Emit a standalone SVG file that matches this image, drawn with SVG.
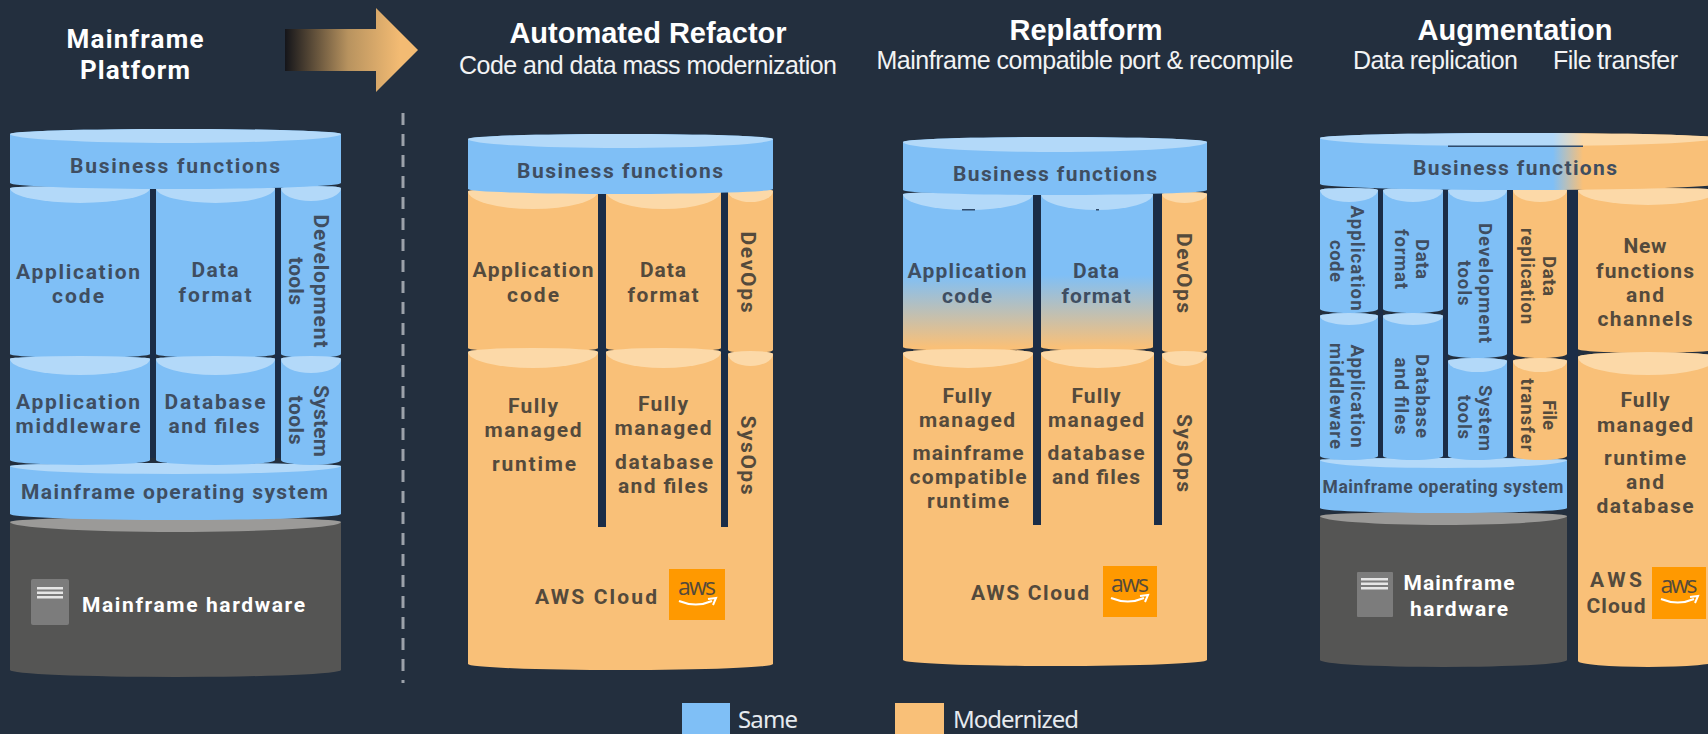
<svg xmlns="http://www.w3.org/2000/svg" width="1708" height="734" viewBox="0 0 1708 734">
<style>
text{font-family:Roboto,"Noto Sans",sans-serif;font-weight:700;font-size:21px;text-anchor:middle;fill:#3f4e61}
.on text,text.on{fill:#544a3c}
.w{fill:#fff}
.sm{font-size:18.500px}
.h0{font-size:26px}
.h1{font-family:"Liberation Sans",Arial,sans-serif;font-size:29px;fill:#fff}
.h2{font-family:"Liberation Sans",Arial,sans-serif;font-size:25px;font-weight:400;fill:#f2f3f4}
.leg{font-family:"Noto Sans",sans-serif;font-size:24px;font-weight:400;fill:#e6eaee;text-anchor:start}
.b{fill:#7fbff6}.bl{fill:#b3d9f9}.o{fill:#f9c078}.ol{fill:#fcd9a8}.g{fill:#555554}.gl{fill:#9b9a98}
.bar{fill:#1b2d47}
.logo{fill:#ff9900}
.aws{font-family:"Open Sans",sans-serif;font-weight:400;font-size:23px;fill:#fff}
.smile{fill:none;stroke:#fff;stroke-width:2}
.icon{fill:#7c7c7c}.il{fill:#e6e6e6}
</style>
<defs>
<linearGradient id="arrowG" gradientUnits="userSpaceOnUse" x1="285" y1="0" x2="400" y2="0"><stop offset="0" stop-color="#14151a"/><stop offset="0.55" stop-color="#b8935f"/><stop offset="1" stop-color="#f3bb73"/></linearGradient>
<linearGradient id="fade1" gradientUnits="userSpaceOnUse" x1="0" y1="275" x2="0" y2="347"><stop offset="0" stop-color="#7fbff6"/><stop offset="1" stop-color="#f9c078"/></linearGradient>
<linearGradient id="fade2" gradientUnits="userSpaceOnUse" x1="1553" y1="0" x2="1583" y2="0"><stop offset="0" stop-color="#7fbff6"/><stop offset="1" stop-color="#f9c078"/></linearGradient>
<linearGradient id="fade2l" gradientUnits="userSpaceOnUse" x1="1553" y1="0" x2="1583" y2="0"><stop offset="0" stop-color="#b3d9f9"/><stop offset="1" stop-color="#fcd9a8"/></linearGradient>
</defs>
<rect width="1708" height="734" fill="#232f3e"/>

<g id="headers">
<text x="135" y="48" class="w h0" textLength="137">Mainframe</text>
<text x="135" y="79" class="w h0" textLength="110">Platform</text>
<text x="648" y="43" class="h1">Automated Refactor</text>
<text x="648" y="74" class="h2" textLength="378">Code and data mass modernization</text>
<text x="1086" y="40" class="h1">Replatform</text>
<text x="1085" y="69" class="h2" textLength="417">Mainframe compatible port &amp; recompile</text>
<text x="1515" y="40" class="h1">Augmentation</text>
<text x="1435.500" y="69" class="h2" textLength="165">Data replication</text>
<text x="1615.500" y="69" class="h2" textLength="125">File transfer</text>
</g>

<g id="connectors">
<path d="M285,29H376V8L418,50L376,92V71H285Z" fill="url(#arrowG)"/>
<path d="M403,113V683" fill="none" stroke="#9ca2aa" stroke-width="3" stroke-dasharray="12 9"/>
</g>

<g id="panel-mainframe">
<g id="m-hardware">
<path class="g" d="M10,522A165.500,5 0 0 1 341,522V670A165.500,7 0 0 1 10,670Z"/>
<path class="gl" d="M10,522A165.500,5 0 0 1 341,522A165.500,10 0 0 1 10,522Z"/>
<rect class="icon" x="31" y="579" width="38" height="46" rx="2"/>
<rect class="il" x="37" y="587" width="26" height="2.500"/><rect class="il" x="37" y="591.500" width="26" height="2.500"/><rect class="il" x="37" y="596" width="26" height="2.500"/>
<text x="193.500" y="612" class="w" textLength="223">Mainframe hardware</text>
</g>
<g id="m-os">
<path class="b" d="M10,466A165.500,3 0 0 1 341,466V514A165.500,6 0 0 1 10,514Z"/>
<path class="bl" d="M10,466A165.500,3 0 0 1 341,466A165.500,8 0 0 1 10,466Z"/>
<text x="174.500" y="499" textLength="307">Mainframe operating system</text>
</g>
<rect class="bar" x="150" y="186" width="6" height="272"/><rect class="bar" x="275" y="186" width="6" height="272"/>
<g id="m-appcode">
<path class="b" d="M10,188A70,2 0 0 1 150,188V354A70,4 0 0 1 10,354Z"/>
<path class="bl" d="M10,188A70,2 0 0 1 150,188A70,15 0 0 1 10,188Z"/>
<text x="78" y="279" textLength="124">Application</text><text x="78" y="303" textLength="52">code</text>
</g>
<g id="m-dataformat">
<path class="b" d="M156,188A59.500,2 0 0 1 275,188V354A59.500,4 0 0 1 156,354Z"/>
<path class="bl" d="M156,188A59.500,2 0 0 1 275,188A59.500,15 0 0 1 156,188Z"/>
<text x="215" y="277" textLength="47">Data</text><text x="215" y="302" textLength="73">format</text>
</g>
<g id="m-devtools">
<path class="b" d="M281,188A30,2 0 0 1 341,188V354A30,4 0 0 1 281,354Z"/>
<path class="bl" d="M281,188A30,2 0 0 1 341,188A30,13 0 0 1 281,188Z"/>
<text transform="translate(314,281) rotate(90)" textLength="133">Development</text>
<text transform="translate(289,281) rotate(90)" textLength="48">tools</text>
</g>
<g id="m-middleware">
<path class="b" d="M10,359A70,3 0 0 1 150,359V460A70,5 0 0 1 10,460Z"/>
<path class="bl" d="M10,359A70,3 0 0 1 150,359A70,16 0 0 1 10,359Z"/>
<text x="78" y="409" textLength="124">Application</text><text x="78" y="433" textLength="125">middleware</text>
</g>
<g id="m-database">
<path class="b" d="M156,359A59.500,3 0 0 1 275,359V460A59.500,5 0 0 1 156,460Z"/>
<path class="bl" d="M156,359A59.500,3 0 0 1 275,359A59.500,16 0 0 1 156,359Z"/>
<text x="215" y="409" textLength="101">Database</text><text x="214" y="433" textLength="91">and files</text>
</g>
<g id="m-systools">
<path class="b" d="M281,359A30,3 0 0 1 341,359V460A30,5 0 0 1 281,460Z"/>
<path class="bl" d="M281,359A30,3 0 0 1 341,359A30,14 0 0 1 281,359Z"/>
<text transform="translate(314,421) rotate(90)" textLength="72">System</text>
<text transform="translate(289,420) rotate(90)" textLength="49">tools</text>
</g>
<g id="m-business">
<path class="b" d="M10,134A165.500,5 0 0 1 341,134V183A165.500,6 0 0 1 10,183Z"/>
<path class="bl" d="M10,134A165.500,5 0 0 1 341,134A165.500,9 0 0 1 10,134Z"/>
<text x="175" y="173" textLength="210">Business functions</text>
</g>
</g>

<g id="panel-refactor">
<g id="r-base" class="on">
<path class="o" d="M468,520H773V664A152.500,6 0 0 1 468,664Z"/>
<text x="596" y="604" textLength="122">AWS Cloud</text>
<rect class="logo" x="669" y="569" width="56" height="51"/>
<text class="aws" x="697" y="595" textLength="38">aws</text>
<path class="smile" d="M679,601Q696,608 712,601M708,599L716,598L713,605"/>
</g>
<g id="r-app" class="on">
<path class="o" d="M468,191A65,2 0 0 1 598,191V348A65,4 0 0 1 468,348Z"/>
<path class="ol" d="M468,191A65,2 0 0 1 598,191A65,18 0 0 1 468,191Z"/>
<text x="533" y="277" textLength="121">Application</text><text x="533" y="302" textLength="52">code</text>
</g>
<g id="r-data" class="on">
<path class="o" d="M606,191A57.500,2 0 0 1 721,191V348A57.500,4 0 0 1 606,348Z"/>
<path class="ol" d="M606,191A57.500,2 0 0 1 721,191A57.500,18 0 0 1 606,191Z"/>
<text x="663" y="277" textLength="46">Data</text><text x="663" y="302" textLength="71">format</text>
</g>
<g id="r-devops" class="on">
<path class="o" d="M728,191A22.500,2 0 0 1 773,191V350A22.500,3 0 0 1 728,350Z"/>
<path class="ol" d="M728,191A22.500,2 0 0 1 773,191A22.500,11 0 0 1 728,191Z"/>
<text transform="translate(741,272) rotate(90)" textLength="81">DevOps</text>
</g>
<g id="r-runtime" class="on">
<path class="o" d="M468,352A65,4 0 0 1 598,352V540H468Z"/>
<path class="ol" d="M468,352A65,4 0 0 1 598,352A65,16 0 0 1 468,352Z"/>
<text x="533" y="413" textLength="50">Fully</text><text x="533" y="437" textLength="97">managed</text><text x="534" y="471" textLength="84">runtime</text>
</g>
<g id="r-database" class="on">
<path class="o" d="M606,352A57.500,4 0 0 1 721,352V540H606Z"/>
<path class="ol" d="M606,352A57.500,4 0 0 1 721,352A57.500,16 0 0 1 606,352Z"/>
<text x="663" y="411" textLength="50">Fully</text><text x="663" y="435" textLength="97">managed</text><text x="664" y="469" textLength="98">database</text><text x="663" y="493" textLength="90">and files</text>
</g>
<g id="r-sysops" class="on">
<path class="o" d="M728,354A22.500,3 0 0 1 773,354V540H728Z"/>
<path class="ol" d="M728,354A22.500,3 0 0 1 773,354A22.500,12 0 0 1 728,354Z"/>
<text transform="translate(741,455) rotate(90)" textLength="79">SysOps</text>
</g>
<rect class="bar" x="598" y="190" width="8" height="337"/><rect class="bar" x="721" y="190" width="7" height="337"/>
<g id="r-business">
<path class="b" d="M468,139A152.500,5 0 0 1 773,139V189A152.500,5 0 0 1 468,189Z"/>
<path class="bl" d="M468,139A152.500,5 0 0 1 773,139A152.500,9 0 0 1 468,139Z"/>
<text x="620" y="178" textLength="206">Business functions</text>
</g>
</g>

<g id="panel-replatform">
<g id="p-base" class="on">
<path class="o" d="M903,518H1207V660A152,6 0 0 1 903,660Z"/>
<text x="1030" y="600" textLength="118">AWS Cloud</text>
<rect class="logo" x="1103" y="566" width="54" height="51"/>
<text class="aws" x="1130" y="592" textLength="38">aws</text>
<path class="smile" d="M1111,598Q1128,605 1144,598M1140,596L1148,595L1145,602"/>
</g>
<g id="p-app">
<path d="M903,194A65,2 0 0 1 1033,194V347A65,4 0 0 1 903,347Z" fill="url(#fade1)"/>
<path class="bl" d="M903,194A65,2 0 0 1 1033,194A65,16 0 0 1 903,194Z"/>
<rect x="962" y="209" width="13" height="1.500" fill="#2f4a6b"/>
<text x="967" y="278" textLength="119">Application</text><text x="967" y="303" textLength="50">code</text>
</g>
<g id="p-data">
<path d="M1041,194A56,2 0 0 1 1153,194V347A56,4 0 0 1 1041,347Z" fill="url(#fade1)"/>
<path class="bl" d="M1041,194A56,2 0 0 1 1153,194A56,16 0 0 1 1041,194Z"/>
<rect x="1096" y="209" width="3" height="1.500" fill="#2f4a6b"/>
<text x="1096" y="278" textLength="46">Data</text><text x="1096" y="303" textLength="69">format</text>
</g>
<g id="p-devops" class="on">
<path class="o" d="M1162,194A22.500,2 0 0 1 1207,194V350A22.500,3 0 0 1 1162,350Z"/>
<path class="ol" d="M1162,194A22.500,2 0 0 1 1207,194A22.500,9 0 0 1 1162,194Z"/>
<text transform="translate(1177,273) rotate(90)" textLength="80">DevOps</text>
</g>
<g id="p-runtime" class="on">
<path class="o" d="M903,353A65,4 0 0 1 1033,353V535H903Z"/>
<path class="ol" d="M903,353A65,4 0 0 1 1033,353A65,15 0 0 1 903,353Z"/>
<text x="967" y="403" textLength="49">Fully</text><text x="967" y="427" textLength="96">managed</text><text x="968" y="460" textLength="111">mainframe</text><text x="968" y="484" textLength="117">compatible</text><text x="968" y="508" textLength="82">runtime</text>
</g>
<g id="p-database" class="on">
<path class="o" d="M1041,353A56.500,4 0 0 1 1154,353V535H1041Z"/>
<path class="ol" d="M1041,353A56.500,4 0 0 1 1154,353A56.500,15 0 0 1 1041,353Z"/>
<text x="1096" y="403" textLength="49">Fully</text><text x="1096" y="427" textLength="96">managed</text><text x="1096" y="460" textLength="97">database</text><text x="1096" y="484" textLength="88">and files</text>
</g>
<g id="p-sysops" class="on">
<path class="o" d="M1162,354A22.500,3 0 0 1 1207,354V535H1162Z"/>
<path class="ol" d="M1162,354A22.500,3 0 0 1 1207,354A22.500,12 0 0 1 1162,354Z"/>
<text transform="translate(1177,453) rotate(90)" textLength="78">SysOps</text>
</g>
<rect class="bar" x="1033" y="192" width="8" height="333"/><rect class="bar" x="1154" y="192" width="8" height="333"/>
<g id="p-business">
<path class="b" d="M903,142A152,5 0 0 1 1207,142V190A152,5 0 0 1 903,190Z"/>
<path class="bl" d="M903,142A152,5 0 0 1 1207,142A152,10 0 0 1 903,142Z"/>
<text x="1055" y="181" textLength="204">Business functions</text>
</g>
</g>

<g id="panel-augmentation">
<g id="a-hardware">
<path class="g" d="M1320,516A123.500,4 0 0 1 1567,516V660A123.500,7 0 0 1 1320,660Z"/>
<path class="gl" d="M1320,516A123.500,4 0 0 1 1567,516A123.500,9 0 0 1 1320,516Z"/>
<rect class="icon" x="1357" y="572" width="36" height="45" rx="1"/>
<rect class="il" x="1361" y="578" width="27" height="2.500"/><rect class="il" x="1361" y="582.500" width="27" height="2.500"/><rect class="il" x="1361" y="587" width="27" height="2.500"/>
<text x="1459" y="590" class="w" textLength="111">Mainframe</text><text x="1459" y="616" class="w" textLength="98">hardware</text>
</g>
<g id="a-os">
<path class="b" d="M1320,460A123.500,2 0 0 1 1567,460V508A123.500,5 0 0 1 1320,508Z"/>
<path class="bl" d="M1320,460A123.500,2 0 0 1 1567,460A123.500,8 0 0 1 1320,460Z"/>
<text x="1443" y="493" style="font-size:17.500px" textLength="241">Mainframe operating system</text>
</g>
<rect class="bar" x="1378" y="188" width="5" height="270"/><rect class="bar" x="1443" y="188" width="5" height="270"/><rect class="bar" x="1507" y="188" width="6" height="270"/><rect class="bar" x="1567" y="188" width="11" height="272"/>
<g id="a-appcode">
<path class="b" d="M1320,190A29,2 0 0 1 1378,190V309A29,4 0 0 1 1320,309Z"/>
<path class="bl" d="M1320,190A29,2 0 0 1 1378,190A29,12 0 0 1 1320,190Z"/>
<text class="sm" transform="translate(1351,258) rotate(90)" textLength="105">Application</text>
<text class="sm" transform="translate(1330,261) rotate(90)" textLength="42">code</text>
</g>
<g id="a-dataformat">
<path class="b" d="M1383,190A30,2 0 0 1 1443,190V309A30,4 0 0 1 1383,309Z"/>
<path class="bl" d="M1383,190A30,2 0 0 1 1443,190A30,12 0 0 1 1383,190Z"/>
<text class="sm" transform="translate(1416,259) rotate(90)" textLength="40">Data</text>
<text class="sm" transform="translate(1395,259) rotate(90)" textLength="60">format</text>
</g>
<g id="a-devtools">
<path class="b" d="M1448,190A29.500,2 0 0 1 1507,190V354A29.500,4 0 0 1 1448,354Z"/>
<path class="bl" d="M1448,190A29.500,2 0 0 1 1507,190A29.500,12 0 0 1 1448,190Z"/>
<text class="sm" transform="translate(1479,283) rotate(90)" textLength="120">Development</text>
<text class="sm" transform="translate(1458,283) rotate(90)" textLength="45">tools</text>
</g>
<g id="a-datarep" class="on">
<path class="o" d="M1513,190A27,2 0 0 1 1567,190V354A27,4 0 0 1 1513,354Z"/>
<path class="ol" d="M1513,190A27,2 0 0 1 1567,190A27,12 0 0 1 1513,190Z"/>
<text class="sm" transform="translate(1543,276) rotate(90)" textLength="40">Data</text>
<text class="sm" transform="translate(1521,276) rotate(90)" textLength="96">replication</text>
</g>
<g id="a-middleware">
<path class="b" d="M1320,316A29,3 0 0 1 1378,316V456A29,4 0 0 1 1320,456Z"/>
<path class="bl" d="M1320,316A29,3 0 0 1 1378,316A29,9 0 0 1 1320,316Z"/>
<text class="sm" transform="translate(1351,396) rotate(90)" textLength="103">Application</text>
<text class="sm" transform="translate(1330,396) rotate(90)" textLength="106">middleware</text>
</g>
<g id="a-database">
<path class="b" d="M1383,316A30,3 0 0 1 1443,316V456A30,4 0 0 1 1383,456Z"/>
<path class="bl" d="M1383,316A30,3 0 0 1 1443,316A30,9 0 0 1 1383,316Z"/>
<text class="sm" transform="translate(1416,396) rotate(90)" textLength="84">Database</text>
<text class="sm" transform="translate(1395,396) rotate(90)" textLength="77">and files</text>
</g>
<g id="a-systools">
<path class="b" d="M1448,361A29.500,3 0 0 1 1507,361V456A29.500,4 0 0 1 1448,456Z"/>
<path class="bl" d="M1448,361A29.500,3 0 0 1 1507,361A29.500,11 0 0 1 1448,361Z"/>
<text class="sm" transform="translate(1479,418) rotate(90)" textLength="66">System</text>
<text class="sm" transform="translate(1458,417) rotate(90)" textLength="44">tools</text>
</g>
<g id="a-filetransfer" class="on">
<path class="o" d="M1513,361A27,3 0 0 1 1567,361V456A27,4 0 0 1 1513,456Z"/>
<path class="ol" d="M1513,361A27,3 0 0 1 1567,361A27,11 0 0 1 1513,361Z"/>
<text class="sm" transform="translate(1543,415) rotate(90)" textLength="30">File</text>
<text class="sm" transform="translate(1521,415) rotate(90)" textLength="73">transfer</text>
</g>
<g id="a-newfunctions" class="on">
<path class="o" d="M1578,190A70,2 0 0 1 1718,190V349A70,4 0 0 1 1578,349Z"/>
<path class="ol" d="M1578,190A70,2 0 0 1 1718,190A70,15 0 0 1 1578,190Z"/>
<text x="1645" y="253" textLength="43">New</text><text x="1645" y="278" textLength="98">functions</text><text x="1645" y="302" textLength="38">and</text><text x="1645" y="326" textLength="95">channels</text>
</g>
<g id="a-runtime" class="on">
<path class="o" d="M1578,357A70,5 0 0 1 1718,357V661A70,6 0 0 1 1578,661Z"/>
<path class="ol" d="M1578,357A70,5 0 0 1 1718,357A70,18 0 0 1 1578,357Z"/>
<text x="1645" y="407" textLength="49">Fully</text><text x="1645" y="432" textLength="96">managed</text><text x="1645" y="465" textLength="82">runtime</text><text x="1645" y="489" textLength="38">and</text><text x="1645" y="513" textLength="97">database</text>
<text x="1616" y="587" textLength="52">AWS</text><text x="1616" y="613" textLength="59">Cloud</text>
<rect class="logo" x="1652" y="567" width="54" height="52"/>
<text class="aws" x="1679" y="593" textLength="37">aws</text>
<path class="smile" d="M1661,599Q1678,606 1694,599M1690,597L1698,596L1695,603"/>
</g>
<g id="a-business">
<path d="M1320,138A198,5 0 0 1 1716,138V184A198,6 0 0 1 1320,184Z" fill="url(#fade2)"/>
<path d="M1320,138A198,5 0 0 1 1716,138A198,8 0 0 1 1320,138Z" fill="url(#fade2l)"/>
<rect x="1448" y="145.500" width="135" height="1.500" fill="#2f4a6b"/>
<text x="1515" y="175" textLength="204">Business functions</text>
</g>
</g>

<g id="legend">
<rect class="b" x="682" y="703" width="48" height="31"/>
<text class="leg" x="738" y="728" textLength="60">Same</text>
<rect class="o" x="895" y="703" width="49" height="31"/>
<text class="leg" x="953" y="728" textLength="126">Modernized</text>
</g>
</svg>
